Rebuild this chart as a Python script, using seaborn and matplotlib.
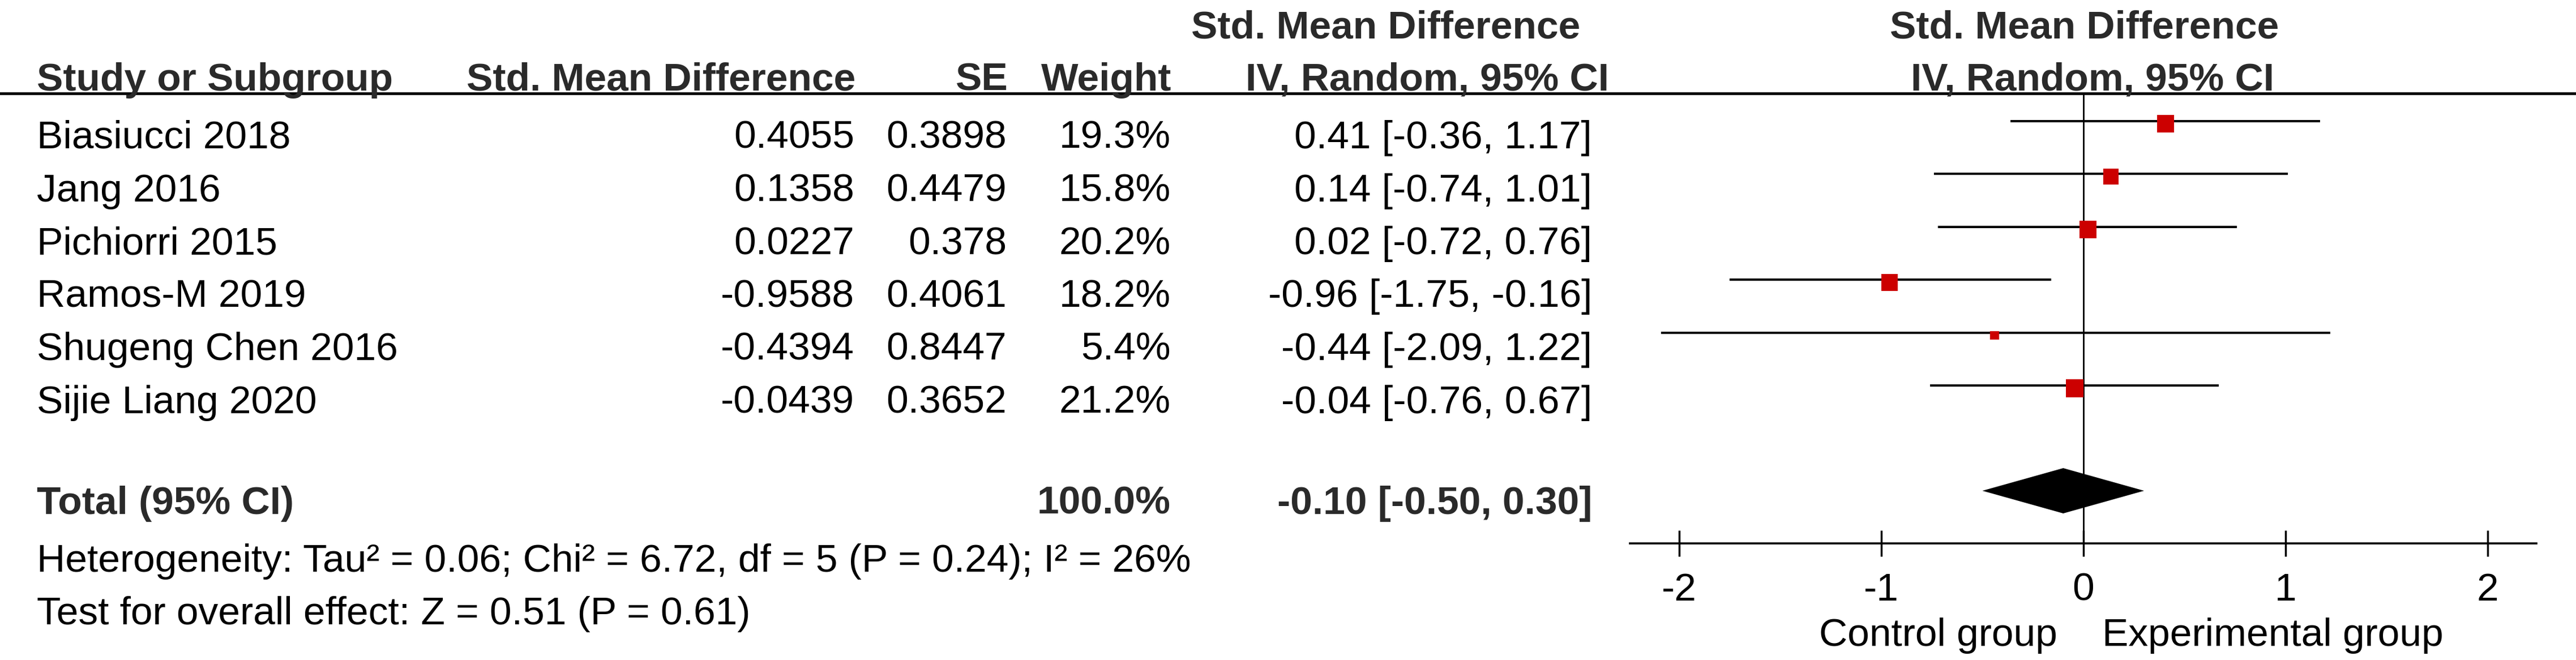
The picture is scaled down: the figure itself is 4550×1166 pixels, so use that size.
import matplotlib
matplotlib.use("Agg")
import matplotlib.pyplot as plt
import seaborn as sns
import pandas as pd

# ---------------- data ----------------
studies = ["Biasiucci 2018", "Jang 2016", "Pichiorri 2015", "Ramos-M 2019",
           "Shugeng Chen 2016", "Sijie Liang 2020"]
smd = [0.4055, 0.1358, 0.0227, -0.9588, -0.4394, -0.0439]
se = [0.3898, 0.4479, 0.378, 0.4061, 0.8447, 0.3652]
weight = [19.3, 15.8, 20.2, 18.2, 5.4, 21.2]
ci_low = [-0.36, -0.74, -0.72, -1.75, -2.09, -0.76]
ci_high = [1.17, 1.01, 0.76, -0.16, 1.22, 0.67]
total_weight = 100.0
total_est = -0.10
total_low = -0.50
total_high = 0.30
heterogeneity_text = "Heterogeneity: Tau² = 0.06; Chi² = 6.72, df = 5 (P = 0.24); I² = 26%"
overall_text = "Test for overall effect: Z = 0.51 (P = 0.61)"
xticks = [-2, -1, 0, 1, 2]
xtick_labels = ["-2", "-1", "0", "1", "2"]
left_favours = "Control group"
right_favours = "Experimental group"

# ---------------- style ----------------
sns.set_style("white")
plt.rcParams["font.family"] = ["Liberation Sans", "DejaVu Sans"]

W, H, DPI = 4550, 1166, 100
fig = plt.figure(figsize=(W / DPI, H / DPI), dpi=DPI)
fig.patch.set_facecolor("white")

FS = 50
BOLD_C = "#2a2a2a"
bold = dict(fontsize=FS, fontweight="bold", color=BOLD_C, va="baseline")
reg = dict(fontsize=FS, color="black", va="baseline")

# text layer in pixel coordinates
axt = fig.add_axes([0, 0, 1, 1])
axt.set_xlim(0, W)
axt.set_ylim(H, 0)
axt.axis("off")

# layout (pixels)
ROW0_LINE, ROW_STEP = 213.5, 93.5
ROW0_BASE = 262
X_STUDY, X_SMD, X_SE, X_W, X_CI = 65, 1509, 1778, 2068, 2812
ZERO_PX, PX_PER_UNIT = 3680, 357
X_LO, X_HI = -2.245, 2.242
Y_TOP, Y_BOT = 166, 960

# header
axt.text(2104, 67, "Std. Mean Difference", ha="left", **bold)
axt.text(ZERO_PX + 2, 67, "Std. Mean Difference", ha="center", **bold)
axt.text(X_STUDY, 160, "Study or Subgroup", ha="left", **bold)
axt.text(X_SMD + 2, 160, "Std. Mean Difference", ha="right", **bold)
axt.text(X_SE + 3, 160, "SE", ha="right", **bold)
axt.text(X_W + 1, 160, "Weight", ha="right", **bold)
axt.text(2200, 160, "IV, Random, 95% CI", ha="left", **bold)
axt.text(ZERO_PX + 16, 160, "IV, Random, 95% CI", ha="center", **bold)
axt.axhline(165, color="black", lw=3.6)

# study rows
for i, name in enumerate(studies):
    yb = ROW0_BASE + ROW_STEP * i
    axt.text(X_STUDY, yb, name, ha="left", **reg)
    axt.text(X_SMD, yb, str(smd[i]), ha="right", **reg)
    axt.text(X_SE, yb, str(se[i]), ha="right", **reg)
    axt.text(X_W, yb, f"{weight[i]:.1f}%", ha="right", **reg)
    axt.text(X_CI, yb, f"{smd[i]:.2f} [{ci_low[i]:.2f}, {ci_high[i]:.2f}]", ha="right", **reg)

# total rows
axt.text(X_STUDY, 908, "Total (95% CI)", ha="left", **bold)
axt.text(X_W, 908, f"{total_weight:.1f}%", ha="right", **bold)
axt.text(X_CI, 908, f"{total_est:.2f} [{total_low:.2f}, {total_high:.2f}]", ha="right", **bold)
axt.text(X_STUDY, 1010, heterogeneity_text, ha="left", **reg)
axt.text(X_STUDY, 1103, overall_text, ha="left", **reg)

# favours labels
axt.text(ZERO_PX - 46, 1141, left_favours, ha="right", **reg)
axt.text(ZERO_PX + 33, 1141, right_favours, ha="left", **reg)

# ---------------- forest axes ----------------
ax_l = ZERO_PX + X_LO * PX_PER_UNIT
ax_r = ZERO_PX + X_HI * PX_PER_UNIT
ax = fig.add_axes([ax_l / W, (H - Y_BOT) / H, (ax_r - ax_l) / W, (Y_BOT - Y_TOP) / H])
ax.patch.set_alpha(0)

line_y = [ROW0_LINE + ROW_STEP * i for i in range(len(studies))]
df = pd.DataFrame({
    "study": studies,
    "smd": smd,
    "weight": weight,
    "line_y": line_y,
    "marker_y": [y + 5 for y in line_y],
})

ax.axvline(0, color="black", lw=2.0, zorder=1)
ax.hlines(df["line_y"], ci_low, ci_high, color="black", lw=2.9, zorder=2)
sns.scatterplot(data=df, x="smd", y="marker_y", size="weight",
                sizes=(0, 24.3 * 21.2), size_norm=(0, 21.2),
                marker="s", color="#CC0000", linewidth=0, legend=False,
                ax=ax, zorder=3)
ax.fill([total_low, total_est, total_high, total_est],
        [867, 827, 867, 907], color="black", lw=0, zorder=3)

ax.set_xlim(X_LO, X_HI)
ax.set_ylim(Y_BOT, Y_TOP)
ax.set_xlabel("")
ax.set_ylabel("")
ax.set_yticks([])
ax.set_xticks(xticks)
ax.set_xticklabels(xtick_labels)
for s in ["top", "left", "right"]:
    ax.spines[s].set_visible(False)
ax.spines["bottom"].set_color("black")
ax.spines["bottom"].set_linewidth(2.6)
ax.tick_params(axis="x", direction="inout", length=33, width=2.5, pad=20,
               labelsize=FS, colors="black", bottom=True)

fig.savefig("out.png", dpi=DPI, facecolor="white")
